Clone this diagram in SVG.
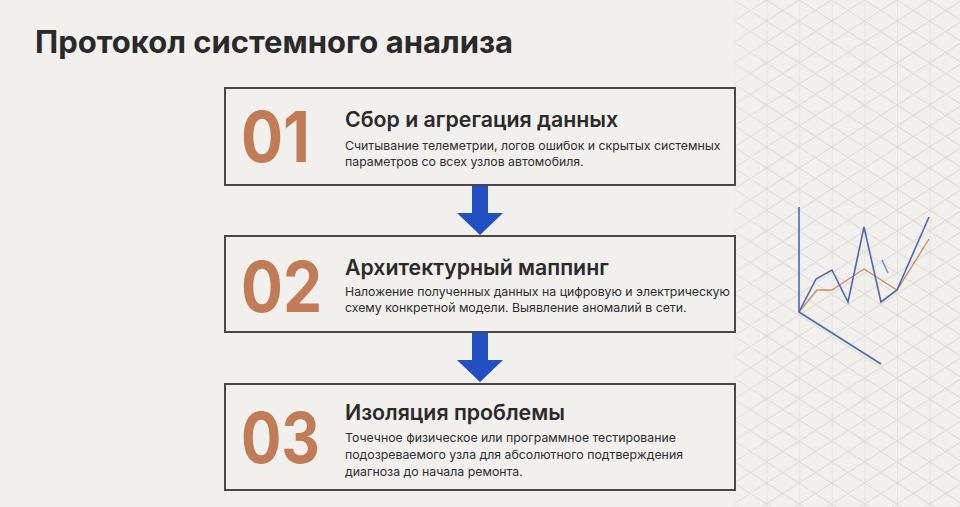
<svg xmlns="http://www.w3.org/2000/svg" width="960" height="507" viewBox="0 0 960 507">
<defs>
<pattern id="iso" x="734" y="0" width="32.6" height="21" patternUnits="userSpaceOnUse">
<path d="M0 0 L32.6 21 M0 21 L32.6 0 M0 0 L0 21" fill="none" stroke="#dcdad5" stroke-width="1"/>
</pattern>
<linearGradient id="fade" x1="0" y1="0" x2="1" y2="0">
<stop offset="0" stop-color="#fff" stop-opacity="0.5"/>
<stop offset="0.15" stop-color="#fff" stop-opacity="1"/>
<stop offset="1" stop-color="#fff" stop-opacity="1"/>
</linearGradient>
<mask id="m"><rect x="734" y="0" width="226" height="507" fill="url(#fade)"/></mask>
<style>
.box{fill:#f1f0ec;stroke:#484848;stroke-width:2}
.num{font-family:Inter,"Noto Sans",sans-serif;font-weight:700;font-size:70px;fill:#c17b56}
.ttl{font-family:Inter,"Noto Sans",sans-serif;font-weight:600;font-size:21.3px;fill:#2a2a2a}
.dsc{font-family:Inter,"Noto Sans",sans-serif;font-weight:400;font-size:12.3px;fill:#2e2e2e}
.arrow{fill:#2250c2}
.ax{fill:none;stroke:#4b6ab3;stroke-width:1.6}
.or{fill:none;stroke:#c98f6a;stroke-width:1.4}
</style>
</defs>
<rect width="960" height="507" fill="#f1f0ec"/>
<rect x="734" y="0" width="226" height="507" fill="url(#iso)" mask="url(#m)"/>
<text x="35" y="53" font-family="Inter,'Noto Sans',sans-serif" font-weight="700" font-size="31" fill="#2a2a2a">Протокол системного анализа</text>

<g id="connectors">
<path class="arrow" d="M472 186 H488 V213 H503 L480 235 L457 213 H472 Z"/>
<path class="arrow" d="M472 333 H488 V360 H503 L480 382 L457 360 H472 Z"/>
</g>

<g id="step1">
<rect class="box" x="225" y="88" width="510" height="97"/>
<text class="num" x="241" y="162" textLength="69" lengthAdjust="spacingAndGlyphs">01</text>
<text class="ttl" x="345" y="127">Сбор и агрегация данных</text>
<text class="dsc" x="345" y="150">Считывание телеметрии, логов ошибок и скрытых системных</text>
<text class="dsc" x="345" y="166">параметров со всех узлов автомобиля.</text>
</g>

<g id="step2">
<rect class="box" x="225" y="236" width="510" height="96"/>
<text class="num" x="241" y="312" textLength="81" lengthAdjust="spacingAndGlyphs">02</text>
<text class="ttl" x="345" y="275">Архитектурный маппинг</text>
<text class="dsc" x="345" y="296">Наложение полученных данных на цифровую и электрическую</text>
<text class="dsc" x="345" y="312">схему конкретной модели. Выявление аномалий в сети.</text>
</g>

<g id="step3">
<rect class="box" x="225" y="384" width="510" height="106"/>
<text class="num" x="241" y="463" textLength="79" lengthAdjust="spacingAndGlyphs">03</text>
<text class="ttl" x="345" y="420">Изоляция проблемы</text>
<text class="dsc" x="345" y="442">Точечное физическое или программное тестирование</text>
<text class="dsc" x="345" y="459">подозреваемого узла для абсолютного подтверждения</text>
<text class="dsc" x="345" y="476">диагноза до начала ремонта.</text>
</g>

<g id="chart">
<path class="ax" d="M799 207 V312 L881 364"/>
<path class="or" d="M799 312 L817 290 L832 290 L864 269 L897 290 L929 239"/>
<path class="ax" d="M799 312 L816 279 L832 270 L848 302 L864 227 L881 302 L897 290 L929 217"/>
<path class="ax" d="M882 260 L888 273" stroke-width="1" opacity="0.7"/>
</g>
</svg>
